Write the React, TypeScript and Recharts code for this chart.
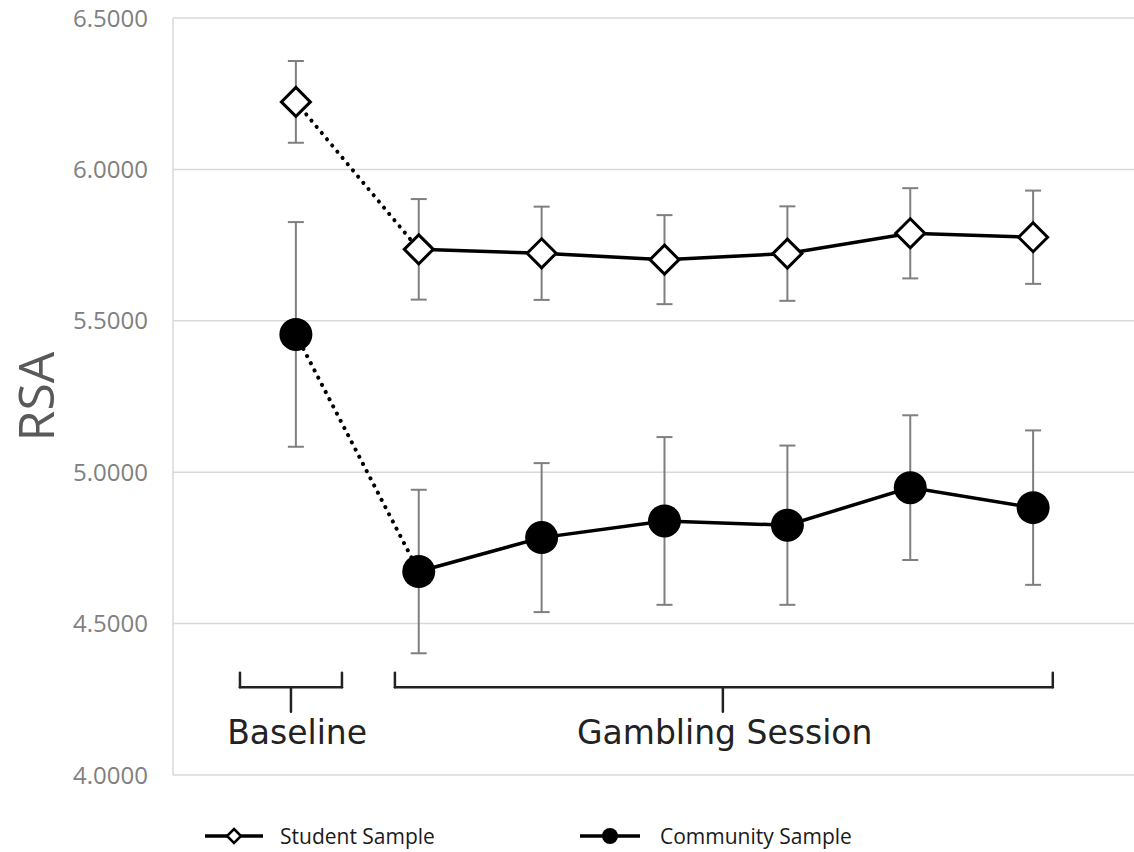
import React from 'react';
import {
  LineChart, Line, XAxis, YAxis, CartesianGrid, ErrorBar, ReferenceLine, ReferenceDot, Legend,
} from 'recharts';

// ---- data ----
const timePoints = [1, 2, 3, 4, 5, 6, 7];
const studentMeans = [6.223, 5.736, 5.723, 5.702, 5.722, 5.789, 5.776];
const studentErrors = [0.135, 0.166, 0.154, 0.147, 0.156, 0.149, 0.154];
const communityMeans = [5.455, 4.672, 4.784, 4.839, 4.825, 4.949, 4.883];
const communityErrors = [0.371, 0.27, 0.246, 0.277, 0.263, 0.239, 0.255];
const yTicks = [4.0, 4.5, 5.0, 5.5, 6.0, 6.5];
const xGridTicks = [0, 1, 2, 3, 4, 5, 6, 7, 8];
const seriesNames = ['Student Sample', 'Community Sample'];

// brace annotations (data units)
const braceBaseline = { left: 0.545, right: 1.375, mid: 0.96 };
const braceSession = { left: 1.806, right: 7.16, mid: 4.475 };
const braceLevels = { top: 4.338, bar: 4.29, tip: 4.209 };
const annotationLabels = [
  { x: 1.01, y: 4.142, text: 'Baseline' },
  { x: 4.49, y: 4.142, text: 'Gambling Session' },
];

const data = timePoints.map((x, i) => ({
  x,
  student: studentMeans[i],
  studentErr: studentErrors[i],
  studentSolid: i >= 1 ? studentMeans[i] : null,
  studentLink: i <= 1 ? studentMeans[i] : null,
  community: communityMeans[i],
  communityErr: communityErrors[i],
  communitySolid: i >= 1 ? communityMeans[i] : null,
  communityLink: i <= 1 ? communityMeans[i] : null,
}));

const DiamondDot = (props: any) => {
  const { cx, cy } = props;
  if (cx == null || cy == null) return null;
  const h = 14.5;
  return (
    <polygon
      key={props.key ?? `d-${cx}`}
      points={`${cx},${cy - h} ${cx + h},${cy} ${cx},${cy + h} ${cx - h},${cy}`}
      fill="#ffffff"
      stroke="#000000"
      strokeWidth={3}
      strokeLinejoin="miter"
    />
  );
};

const CircleDot = (props: any) => {
  const { cx, cy } = props;
  if (cx == null || cy == null) return null;
  return <circle key={props.key ?? `c-${cx}`} cx={cx} cy={cy} r={16.5} fill="#000000" stroke="none" />;
};

const LegendContent = () => (
  <div style={{ display: 'flex', alignItems: 'center', fontFamily: '"Open Sans", sans-serif', fontSize: 21, color: '#1a1a1a' }}>
    <div style={{ display: 'flex', alignItems: 'center', width: 375 }}>
      <svg width={58} height={20}>
        <line x1={0} y1={10} x2={58} y2={10} stroke="#000" strokeWidth={3.5} />
        <polygon points="29,3 36,10 29,17 22,10" fill="#fff" stroke="#000" strokeWidth={2.5} />
      </svg>
      <span style={{ marginLeft: 17 }}>{seriesNames[0]}</span>
    </div>
    <div style={{ display: 'flex', alignItems: 'center' }}>
      <svg width={60} height={20}>
        <line x1={0} y1={10} x2={60} y2={10} stroke="#000" strokeWidth={3.5} />
        <circle cx={30} cy={10} r={8} fill="#000" />
      </svg>
      <span style={{ marginLeft: 20 }}>{seriesNames[1]}</span>
    </div>
  </div>
);

const braceSegments = (b: { left: number; right: number; mid: number }) => [
  [{ x: b.left, y: braceLevels.top }, { x: b.left, y: braceLevels.bar }],
  [{ x: b.left, y: braceLevels.bar }, { x: b.right, y: braceLevels.bar }],
  [{ x: b.right, y: braceLevels.bar }, { x: b.right, y: braceLevels.top }],
  [{ x: b.mid, y: braceLevels.bar }, { x: b.mid, y: braceLevels.tip }],
];

export default function App() {
  const segments = [...braceSegments(braceBaseline), ...braceSegments(braceSession)];
  return (
    <div style={{ position: 'absolute', left: 0, top: 0, width: 1134, height: 852, overflow: 'hidden', background: '#fff' }}>
      <LineChart width={1156} height={852} data={data} margin={{ top: 18, right: 0, bottom: 77, left: 0 }}>
        <CartesianGrid stroke="#d9d9d9" strokeWidth={1.5} />
        <XAxis
          dataKey="x"
          type="number"
          domain={[0, 8]}
          ticks={xGridTicks}
          tick={false}
          tickLine={false}
          axisLine={false}
          height={0}
        />
        <YAxis
          type="number"
          domain={[4, 6.5]}
          ticks={yTicks}
          width={173}
          axisLine={false}
          tickLine={false}
          tickSize={0}
          tickMargin={25}
          tickFormatter={(v: number) => v.toFixed(4)}
          tick={{ fill: '#808080', fontSize: 24, fontFamily: '"Open Sans", sans-serif' }}
          label={{
            content: (p: any) => {
              const vb = p.viewBox || {};
              const cx = (vb.x ?? 0) + 35;
              const cy = (vb.y ?? 0) + (vb.height ?? 0) / 2;
              return (
                <text
                  x={cx}
                  y={cy}
                  transform={`rotate(-90 ${cx} ${cy})`}
                  textAnchor="middle"
                  dominantBaseline="central"
                  fill="#595959"
                  fontSize={50}
                  fontFamily='"Open Sans", sans-serif'
                >
                  RSA
                </text>
              );
            },
          }}
        />
        {segments.map((seg, i) => (
          <ReferenceLine key={`brace-${i}`} segment={seg} stroke="#222" strokeWidth={2.5} strokeLinecap="round" />
        ))}
        {annotationLabels.map((a) => (
          <ReferenceDot
            key={a.text}
            x={a.x}
            y={a.y}
            r={0}
            fill="none"
            stroke="none"
            label={{ value: a.text, position: 'center', fill: '#222', fontSize: 33, fontFamily: '"DejaVu Sans", sans-serif' }}
          />
        ))}
        <Line dataKey="studentLink" stroke="#000" strokeWidth={4} strokeDasharray="0.1 8" strokeLinecap="round" dot={false} isAnimationActive={false} legendType="none" connectNulls={false} />
        <Line dataKey="communityLink" stroke="#000" strokeWidth={4} strokeDasharray="0.1 8" strokeLinecap="round" dot={false} isAnimationActive={false} legendType="none" />
        <Line dataKey="studentSolid" stroke="#000" strokeWidth={3.5} dot={false} isAnimationActive={false} legendType="none" />
        <Line dataKey="communitySolid" stroke="#000" strokeWidth={3.5} dot={false} isAnimationActive={false} legendType="none" />
        <Line dataKey="student" name={seriesNames[0]} stroke="none" strokeWidth={0} dot={DiamondDot} activeDot={false} isAnimationActive={false}>
          <ErrorBar dataKey="studentErr" direction="y" width={8} stroke="#7f7f7f" strokeWidth={2} />
        </Line>
        <Line dataKey="community" name={seriesNames[1]} stroke="none" strokeWidth={0} dot={CircleDot} activeDot={false} isAnimationActive={false}>
          <ErrorBar dataKey="communityErr" direction="y" width={8} stroke="#7f7f7f" strokeWidth={2} />
        </Line>
        <Legend
          layout="horizontal"
          verticalAlign="middle"
          align="center"
          content={() => <LegendContent />}
          wrapperStyle={{ position: 'absolute', top: 822, left: 205, width: 800, height: 26 }}
        />
      </LineChart>
    </div>
  );
}
